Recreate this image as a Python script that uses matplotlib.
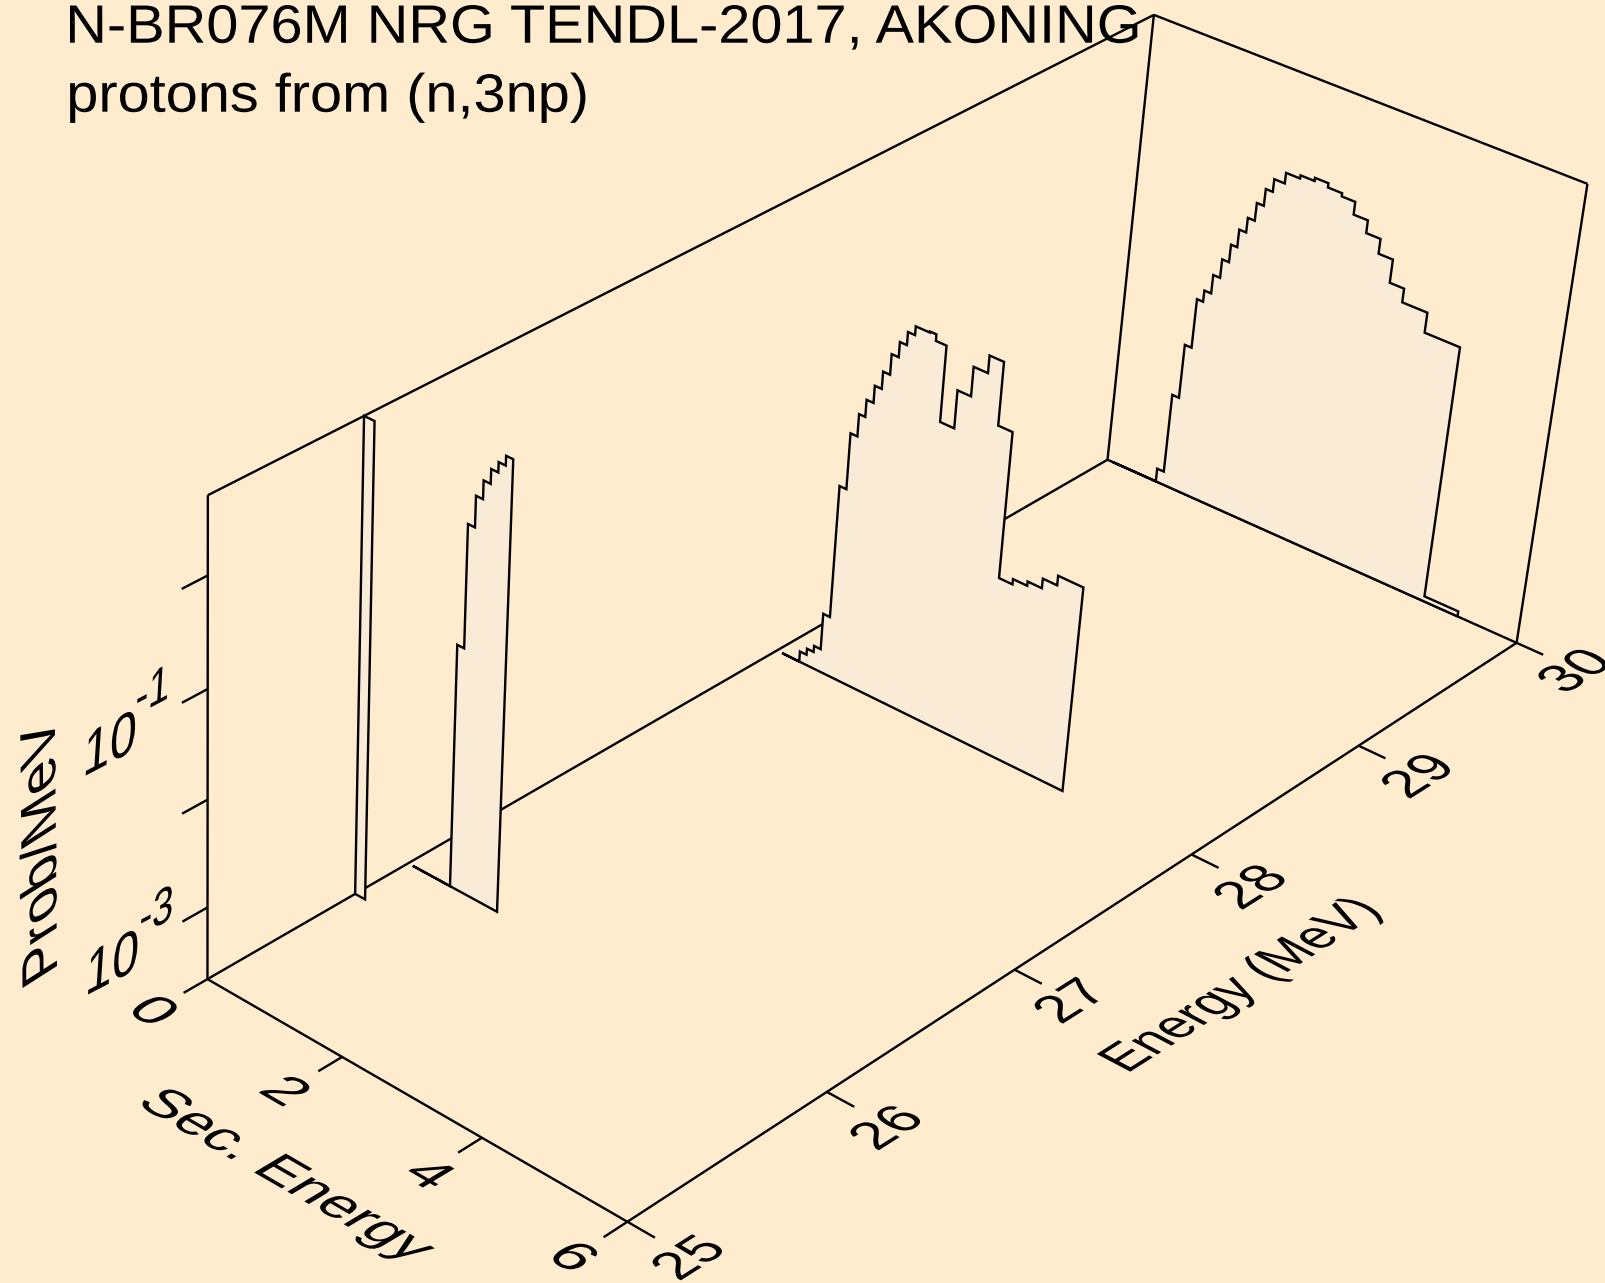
import numpy as np, matplotlib
matplotlib.use('Agg')
import matplotlib.pyplot as plt
from matplotlib.patches import Polygon
from matplotlib.font_manager import FontProperties
from matplotlib.text import Text
from matplotlib.textpath import TextPath
from matplotlib.path import Path
from matplotlib.transforms import Affine2D

FONT = 'Liberation Sans'
BG = '#FFEBCD'
FILL = '#FAEBD7'
W, H = 1605, 1283

SEC_MIN, SEC_MAX = 0, 6
E_MIN, E_MAX = 25, 30
LOGZ_MIN, LOGZ_MAX = -3.68, 0.69
SEC_TICKS = [0, 2, 4, 6]
E_TICKS = [25, 26, 27, 28, 29, 30]
LOGZ_TICKS = [-3, -2, -1, 0]
NO_DATA = -9.0   # empty bins, below the floor of the log axis

E_A = 25.73
EDGES_A = [0.00, 0.15]
LOGP_A = [0.69]

E_B = 26.0
EDGES_B = [0.07, 0.63, 0.73, 0.83, 0.93, 1.03, 1.13, 1.23, 1.33]
LOGP_B = [NO_DATA, -1.41, -0.29, -0.01, 0.155, 0.285, 0.375, 0.46]

E_C = 28.0
EDGES_C = [0.08, 0.34, 0.44, 0.54, 0.64, 0.74, 0.84, 0.94, 1.03, 1.13, 1.23, 1.33, 1.43, 1.53,
           1.63, 1.83, 1.92, 2.07, 2.27, 2.46, 2.66, 2.86, 3.06, 3.25, 3.45, 3.65, 3.85, 4.20]
LOGP_C = [NO_DATA, -3.58, -3.52, -3.46, -3.11, -1.84, -1.31, -1.10, -0.94, -0.78, -0.62, -0.43, -0.29,
          -0.17, -0.09, -0.08, -0.14, -0.84, -0.49, -0.22, -0.06, -0.64, -2.00, -1.95, -1.91, -1.82, -1.73]

E_D = 30.0
EDGES_D = [0.08, 0.74, 0.84, 0.94, 1.04, 1.13, 1.23, 1.33, 1.43, 1.52, 1.62, 1.72, 1.82, 1.92,
           2.07, 2.27, 2.47, 2.66, 2.86, 3.05, 3.25, 3.45, 3.65, 3.85, 4.20, 4.69, 5.17]
LOGP_D = [NO_DATA, -3.55, -2.77, -2.24, -1.76, -1.65, -1.47, -1.29, -1.12, -0.95, -0.81, -0.64, -0.48,
          -0.36, -0.26, -0.23, -0.20, -0.24, -0.27, -0.39, -0.51, -0.65, -0.87, -1.00, -1.19, -3.63]

# perspective camera, fixed by where the box corners and ticks fall on the canvas
CAMERA = np.array([
    (0, 25, LOGZ_MIN, 207.8, 979.8), (0, 25, -3, 207.8, 906.7), (0, 25, -2, 207.8, 798.7),
    (0, 25, -1, 207.8, 689.3), (0, 25, 0, 207.8, 575.7), (0, 25, LOGZ_MAX, 207.8, 495.4),
    (6, 25, LOGZ_MIN, 626.1, 1221), (2, 25, LOGZ_MIN, 341.4, 1057.3), (4, 25, LOGZ_MIN, 481.8, 1138.3),
    (0, 30, LOGZ_MIN, 1107.5, 460), (0, 30, LOGZ_MAX, 1153.6, 14.3),
    (6, 30, LOGZ_MIN, 1516.7, 642.7), (6, 30, LOGZ_MAX, 1587.6, 184.3),
    (6, 26, LOGZ_MIN, 828.2, 1091.7), (6, 27, LOGZ_MIN, 1014.7, 970),
    (6, 28, LOGZ_MIN, 1192.2, 854.3), (6, 29, LOGZ_MIN, 1357.7, 745.7)], float)


def fit_camera(a):
    rows = []
    for s, e, z, x, y in a:
        X = [s, e - 25, z, 1]
        rows.append(X + [0, 0, 0, 0] + [-x / 1000 * c for c in X])
        rows.append([0, 0, 0, 0] + X + [-y / 1000 * c for c in X])
    return np.linalg.svd(np.array(rows))[2][-1].reshape(3, 4)


P = fit_camera(CAMERA)


def project(sec, e, logz):
    sec, e, logz = np.broadcast_arrays(np.asarray(sec, float), np.asarray(e, float), np.asarray(logz, float))
    w = P @ np.vstack([sec.ravel(), e.ravel() - 25, logz.ravel(), np.ones(sec.size)])
    return w[0] / w[2] * 1000, w[1] / w[2] * 1000


class SkewText(Text):
    """Real text whose glyphs are laid in the plane of the box: u and v are
    the screen vectors (pixels, y up) of one em along and across the baseline."""

    def __init__(self, x, y, s, u, v, baseline=False, zorder=7):
        em = float(np.hypot(*u))
        super().__init__(x, y, s, ha='left' if baseline else 'center',
                         va='baseline' if baseline else 'center', color='black', zorder=zorder,
                         rotation=np.degrees(np.arctan2(u[1], u[0])), rotation_mode='anchor',
                         fontproperties=FontProperties(family=FONT, size=em * 0.72))
        self._uv = (u, v)
        self._on_baseline = baseline

    def _glyphs(self):
        u, v = self._uv
        tp = TextPath((0, 0), self.get_text(), size=1, prop=FontProperties(family=FONT))
        path = Path(np.array(tp.vertices), np.array(tp.codes))
        ext = path.get_extents()
        if self._on_baseline:
            c0, c1 = ext.x0, 0.0
        else:
            c0, c1 = (ext.x0 + ext.x1) / 2, (ext.y0 + ext.y1) / 2
        X, Y = self.get_transform().transform(self.get_position())
        tr = Affine2D.from_values(u[0], u[1], v[0], v[1],
                                  X - u[0] * c0 - v[0] * c1, Y - u[1] * c0 - v[1] * c1)
        return path, tr

    def draw(self, renderer):
        if not self.get_visible():
            return
        path, tr = self._glyphs()
        gc = renderer.new_gc()
        gc.set_linewidth(0)
        gc.set_antialiased(True)
        renderer.draw_path(gc, path, tr, (0, 0, 0, 1))
        gc.restore()


fig = plt.figure(figsize=(W / 100, H / 100), dpi=100, facecolor=BG)
ax = fig.add_axes([0, 0, 1, 1])
ax.set_xlim(0, W)
ax.set_ylim(H, 0)
ax.axis('off')

LW = 1.7


def line3(s, e, z, lw=LW, zorder=2):
    x, y = project(s, e, z)
    ax.plot(x, y, color='black', lw=lw, solid_capstyle='butt', solid_joinstyle='miter', zorder=zorder)


# box
line3([SEC_MIN, SEC_MIN], E_MIN, [LOGZ_MIN, LOGZ_MAX])
line3([SEC_MIN, SEC_MIN], E_MAX, [LOGZ_MIN, LOGZ_MAX])
line3([SEC_MAX, SEC_MAX], E_MAX, [LOGZ_MIN, LOGZ_MAX])
line3(SEC_MIN, [E_MIN, E_MAX], LOGZ_MAX)
line3([SEC_MIN, SEC_MAX], E_MAX, LOGZ_MAX)
line3([SEC_MIN, SEC_MAX], E_MIN, LOGZ_MIN)
line3([SEC_MIN, SEC_MAX], E_MAX, LOGZ_MIN)
line3(SEC_MIN, [E_MIN, E_MAX], LOGZ_MIN)
line3(SEC_MAX, [E_MIN, E_MAX], LOGZ_MIN)

# ticks
for s in SEC_TICKS:
    line3(s, [E_MIN, E_MIN - 0.115], LOGZ_MIN)
for e in E_TICKS:
    line3([SEC_MAX, SEC_MAX + 0.37], e, LOGZ_MIN)
for z in LOGZ_TICKS:
    line3(SEC_MIN, [E_MIN, E_MIN - 0.12], z)


# spectra, back to front
def curtain(e, edges, logp, zorder):
    edges = np.asarray(edges)
    top = np.clip(logp, LOGZ_MIN, LOGZ_MAX)
    s = np.repeat(edges, 2)[1:-1]
    z = np.repeat(top, 2)
    s = np.r_[s, edges[-1], edges[0]]
    z = np.r_[z, LOGZ_MIN, LOGZ_MIN]
    x, y = project(s, e, z)
    ax.add_patch(Polygon(np.c_[x, y], closed=True, fc=FILL, ec='black', lw=LW,
                         joinstyle='miter', zorder=zorder))


curtain(E_D, EDGES_D, LOGP_D, 3)
curtain(E_C, EDGES_C, LOGP_C, 4)
curtain(E_B, EDGES_B, LOGP_B, 5)
curtain(E_A, EDGES_A, LOGP_A, 6)

# text
SEC_U, SEC_V = (52.8, -30.5), (46, 27.5)
SECLAB_U = (50.7, -29.3)
E_U, E_V = (45.6, 28.9), (-48.7, 25.7)
ELAB_U = (41.6, 26.4)
TEN_U, TEN_V = (48, 25), (4, 62)
EXP_U, EXP_V = (38, 20), (3, 52)
PROB_U, PROB_V = (-0.5, 58), (-50, -32)
TITLE_U, TITLE_V = (57.7, 0), (0, 54)


def add(x, y, s, u, v, **kw):
    ax.add_artist(SkewText(x, y, s, u, v, **kw))


for lab, x, y in zip(SEC_TICKS, [154.8, 286.9, 430.4, 574.7], [1010, 1090, 1173.3, 1256]):
    add(x, y, str(lab), SEC_U, SEC_V)
for lab, x, y in zip(E_TICKS, [687.4, 885.3, 1069, 1249.4, 1416.7, 1573.3],
                     [1256.7, 1126.7, 1000, 886, 775, 670]):
    add(x, y, str(lab), E_U, E_V)
add(113.3, 960.7, '10', TEN_U, TEN_V)
add(156.7, 909.3, '-3', EXP_U, EXP_V)
add(111, 741.7, '10', TEN_U, TEN_V)
add(152.7, 689, '-1', EXP_U, EXP_V)
add(38, 851, 'Prob/MeV', PROB_U, PROB_V)
add(285, 1177, 'Sec. Energy', SECLAB_U, SEC_V)
add(1243, 985.5, 'Energy (MeV)', ELAB_U, E_V)

add(70, 42.7, 'N-BR076M NRG TENDL-2017, AKONING', TITLE_U, TITLE_V, baseline=True, zorder=1)
add(70, 111.7, 'protons from (n,3np)', TITLE_U, TITLE_V, baseline=True, zorder=1)

fig.savefig('out.png', dpi=100, facecolor=BG)
